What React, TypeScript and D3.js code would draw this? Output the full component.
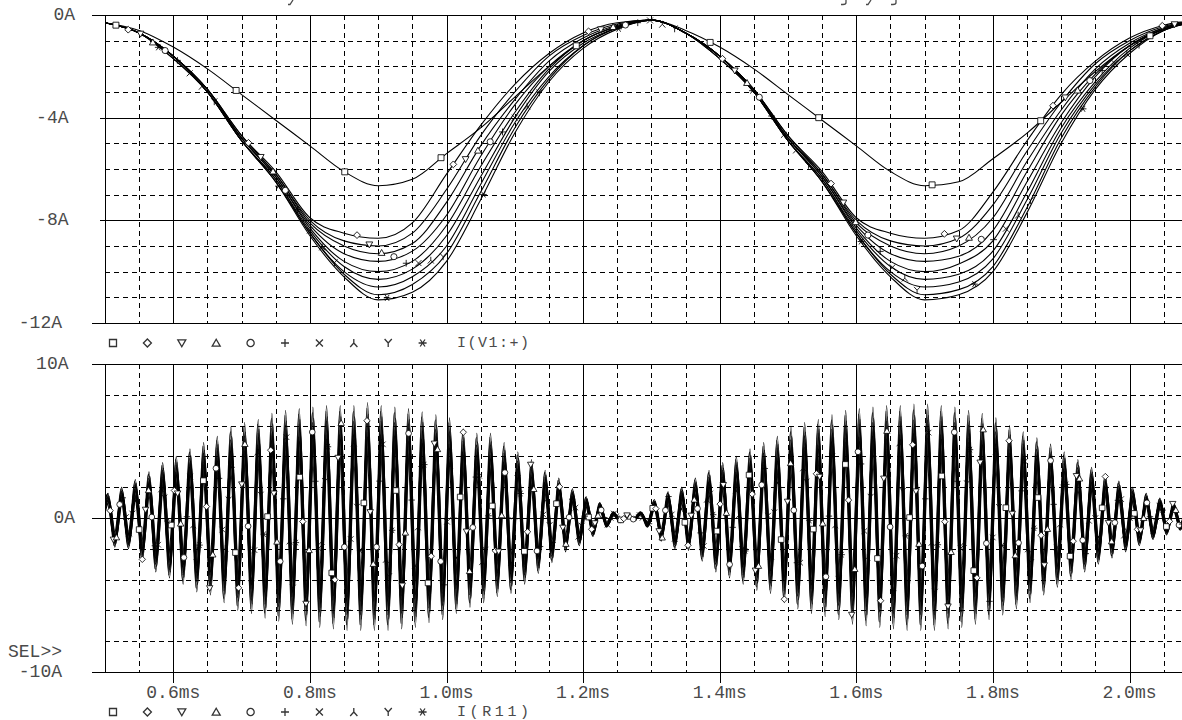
import React from 'react';
import * as d3 from 'd3';

const W = 1182;
const H = 720;

// ---------- top panel: I(V1:+) (10 swept traces) ----------
const TOP_TIMES = [0.50,0.55,0.60,0.65,0.70,0.75,0.80,0.85,0.90,0.95,1.00,1.05,1.10,1.15,1.20,1.25,1.30,1.35,1.40,1.45,1.50,1.55,1.60,1.65,1.70,1.75,1.80,1.85,1.90,1.95,2.00,2.05,2.10];

const TOP_T0 = [-0.3,-0.6,-1.25,-2.1,-3.1,-4.1,-5.1,-6.1,-6.65,-6.4,-5.4,-4.4,-3.2,-2.0,-1.0,-0.45,-0.2,-0.6,-1.25,-2.1,-3.1,-4.1,-5.1,-6.1,-6.65,-6.5,-5.6,-4.6,-3.4,-2.2,-1.2,-0.55,-0.25];
const TOP_T1 = [-0.3,-0.7,-1.6,-2.9,-4.7,-6.1,-7.9,-8.5,-8.7,-8.1,-6.2,-4.3,-2.7,-1.5,-0.7,-0.3,-0.2,-0.7,-1.6,-2.9,-4.7,-6.1,-7.9,-8.5,-8.7,-8.4,-6.9,-4.9,-3.1,-1.8,-0.9,-0.4,-0.2];
const TOP_T2 = [-0.3,-0.7,-1.6,-2.9,-4.7,-6.2,-8.0,-8.8,-9.0,-8.5,-6.8,-4.7,-3.0,-1.6,-0.8,-0.35,-0.2,-0.7,-1.6,-2.9,-4.7,-6.2,-8.0,-8.8,-9.0,-8.7,-7.4,-5.3,-3.4,-1.9,-1.0,-0.45,-0.2];
const TOP_T3 = [-0.3,-0.7,-1.6,-2.9,-4.8,-6.2,-8.1,-9.0,-9.3,-8.9,-7.3,-5.1,-3.3,-1.8,-0.9,-0.4,-0.2,-0.7,-1.6,-2.9,-4.8,-6.2,-8.1,-9.0,-9.3,-9.0,-7.9,-5.7,-3.7,-2.1,-1.1,-0.5,-0.2];
const TOP_T4 = [-0.3,-0.7,-1.6,-2.9,-4.8,-6.3,-8.2,-9.3,-9.6,-9.2,-7.8,-5.5,-3.5,-2.0,-1.0,-0.45,-0.2,-0.7,-1.6,-2.9,-4.8,-6.3,-8.2,-9.3,-9.6,-9.4,-8.4,-6.1,-3.9,-2.3,-1.2,-0.5,-0.2];
const TOP_T5 = [-0.3,-0.7,-1.6,-3.0,-4.8,-6.3,-8.3,-9.6,-10.0,-9.6,-8.2,-5.9,-3.8,-2.1,-1.0,-0.45,-0.2,-0.7,-1.6,-3.0,-4.8,-6.3,-8.3,-9.6,-10.0,-9.7,-8.8,-6.5,-4.2,-2.4,-1.2,-0.55,-0.2];
const TOP_T6 = [-0.3,-0.7,-1.6,-3.0,-4.9,-6.4,-8.4,-9.8,-10.3,-9.9,-8.6,-6.3,-4.0,-2.2,-1.1,-0.5,-0.2,-0.7,-1.6,-3.0,-4.9,-6.4,-8.4,-9.8,-10.3,-10.1,-9.2,-6.9,-4.4,-2.6,-1.3,-0.55,-0.25];
const TOP_T7 = [-0.3,-0.7,-1.6,-3.0,-4.9,-6.4,-8.5,-10.0,-10.6,-10.2,-9.0,-6.6,-4.2,-2.4,-1.2,-0.5,-0.2,-0.7,-1.6,-3.0,-4.9,-6.4,-8.5,-10.0,-10.6,-10.4,-9.5,-7.2,-4.6,-2.7,-1.4,-0.6,-0.25];
const TOP_T8 = [-0.3,-0.7,-1.7,-3.0,-4.9,-6.5,-8.5,-10.1,-10.9,-10.5,-9.3,-6.9,-4.4,-2.5,-1.2,-0.5,-0.2,-0.7,-1.7,-3.0,-4.9,-6.5,-8.5,-10.1,-10.9,-10.7,-9.8,-7.5,-4.8,-2.8,-1.4,-0.6,-0.25];
const TOP_T9 = [-0.3,-0.7,-1.7,-3.0,-4.9,-6.5,-8.6,-10.2,-11.1,-10.8,-9.6,-7.2,-4.6,-2.6,-1.3,-0.55,-0.2,-0.7,-1.7,-3.0,-4.9,-6.5,-8.6,-10.2,-11.1,-10.9,-10.0,-7.7,-5.0,-2.9,-1.5,-0.6,-0.25];
const TOP_TRACES = [TOP_T0, TOP_T1, TOP_T2, TOP_T3, TOP_T4, TOP_T5, TOP_T6, TOP_T7, TOP_T8, TOP_T9];

// marker times read for the square trace; other traces lag behind
const TOP_MARKER_TIMES = [0.516, 0.692, 0.851, 0.992, 1.19, 1.386, 1.545, 1.711, 1.87, 2.03];
const TOP_MARKER_LAG = [0, 0.018, 0.036, 0.054, 0.072, 0.09, 0.108, 0.126, 0.144, 0.062];

// ---------- bottom panel: I(R11) ----------
const BOT_PEAK_T0 = 0.503;
const BOT_CYCLE = 0.02;
const BOT_START = -0.8;
const BOT_PEAKS = [
  1.6, 2.0, 2.5, 3.0, 3.6, 4.0, 4.5, 4.9, 5.3, 5.9,
  6.2, 6.4, 6.8, 7.0, 7.1, 7.2, 7.3, 7.3, 7.3, 7.5,
  7.3, 7.2, 7.1, 6.9, 6.7, 6.5, 5.8, 5.5, 5.5, 4.9,
  4.3, 3.8, 3.1, 2.6, 1.9, 1.4, 1.0, 0.4, 0.2, 0.4,
  1.2, 1.7, 2.0, 2.6, 3.1, 3.6, 4.0, 4.5, 4.9, 5.3,
  5.9, 6.2, 6.4, 6.7, 7.0, 7.1, 7.2, 7.3, 7.3, 7.4,
  7.4, 7.3, 7.2, 7.0, 6.8, 6.5, 6.0, 5.6, 5.2, 4.8,
  4.3, 3.8, 3.3, 2.8, 2.4, 2.0, 1.6, 1.3, 1.0, 0.8,
];
const BOT_TROUGHS = [
  -1.9, -2.0, -2.8, -3.5, -3.9, -4.3, -4.8, -5.0, -5.5, -6.0,
  -6.2, -6.5, -6.7, -6.9, -7.0, -7.1, -7.2, -7.3, -7.3, -7.3,
  -7.3, -7.2, -7.1, -6.8, -6.6, -6.2, -5.8, -5.5, -5.1, -4.9,
  -4.3, -3.6, -2.9, -2.2, -1.8, -1.2, -0.6, -0.3, -0.1, -0.6,
  -1.5, -2.0, -2.1, -2.8, -3.5, -3.9, -4.3, -4.7, -4.9, -5.5,
  -5.9, -6.2, -6.4, -6.6, -6.9, -7.0, -7.1, -7.2, -7.3, -7.3,
  -7.3, -7.2, -7.1, -6.9, -6.6, -6.3, -5.9, -5.5, -5.0, -4.5,
  -4.0, -3.5, -3.0, -2.6, -2.2, -1.8, -1.4, -1.1, -0.8, -0.6,
];
const BOT_RATIOS = [0.62, 1.0, 0.95, 0.9, 0.86, 0.82, 0.78, 0.74, 0.7, 0.66];
const BOT_SHIFTS = [0.0, 0.0014, 0.0005, 0.0025, 0.001, 0.002, 0.003, 0.0007, 0.0017, 0.0033];
const BOT_MARKER_STEP = 0.047;
const BOT_MARKER_OFFSETS = [0.0, 0.0046, 0.0093, 0.0138, 0.0185, 0.023, 0.0278, 0.0322, 0.037, 0.0415];

// ---------- axes ----------
const X_TICKS = [0.6, 0.8, 1.0, 1.2, 1.4, 1.6, 1.8, 2.0];
const X_LABELS = ['0.6ms', '0.8ms', '1.0ms', '1.2ms', '1.4ms', '1.6ms', '1.8ms', '2.0ms'];
const TOP_Y_TICKS = [0, -4, -8, -12];
const TOP_Y_LABELS = ['0A', '-4A', '-8A', '-12A'];
const BOT_Y_TICKS = [10, 0, -10];
const BOT_Y_LABELS = ['10A', '0A', '-10A'];
const TOP_LEGEND = 'I(V1:+)';
const BOT_LEGEND = 'I(R11)';
// x positions of the cut-off title's descenders along the top edge
const TITLE_DESCENDERS = [
  { x: 290, kind: 'y' },
  { x: 843, kind: 'g' },
  { x: 868, kind: 'y' },
  { x: 893, kind: 'g' },
];

const FONT = "'Courier New', 'Liberation Mono', monospace";
const TEXT_FILL = '#4a4a4a';

function symbolPath(k: number): string {
  switch (k) {
    case 0: return 'M-3.5,-3.5H3.5V3.5H-3.5Z';
    case 1: return 'M0,-4L4,0L0,4L-4,0Z';
    case 2: return 'M-4,-3.2H4L0,3.8Z';
    case 3: return 'M0,-3.8L4,3.2H-4Z';
    case 4: return 'M3.6,0A3.6,3.6 0 1,1 -3.6,0A3.6,3.6 0 1,1 3.6,0Z';
    case 5: return 'M-4,0H4M0,-4V4';
    case 6: return 'M-3.5,-3.5L3.5,3.5M3.5,-3.5L-3.5,3.5';
    case 7: return 'M0,-4V0L-3.6,4M0,0L3.6,4';
    case 8: return 'M-3.6,-4L0,0L3.6,-4M0,0V4';
    default: return 'M-4,0H4M-2.4,-3.5L2.4,3.5M2.4,-3.5L-2.4,3.5';
  }
}

function interp(ts: number[], vs: number[], t: number): number {
  const i = d3.bisectRight(ts, t);
  if (i <= 0) return vs[0];
  if (i >= ts.length) return vs[vs.length - 1];
  const t0 = ts[i - 1];
  const t1 = ts[i];
  return vs[i - 1] + ((vs[i] - vs[i - 1]) * (t - t0)) / (t1 - t0);
}

export default function App() {
  const x = d3.scaleLinear().domain([0.5, 2.1]).range([105, 105 + 1.6 * 683]);
  const yTop = d3.scaleLinear().domain([-12, 0]).range([323, 15]);
  const yBot = d3.scaleLinear().domain([-10, 10]).range([672, 364]);
  const left = 105;
  const right = x(2.1);

  const px = (v: number) => Math.round(v) + 0.5;

  const minorX = d3.range(11, 42).map((i) => i * 0.05).filter((t) => Math.abs(t / 0.2 - Math.round(t / 0.2)) > 1e-6);
  const topMinorY = d3.range(-11, 0).filter((v) => v % 4 !== 0);
  const botMinorY = d3.range(-8, 10, 2).filter((v) => v !== 0);

  const topLine = d3
    .line<number>()
    .x((_, i) => x(TOP_TIMES[i]))
    .y((d) => yTop(d))
    .curve(d3.curveMonotoneX);

  // bottom traces
  const botTraces = BOT_RATIOS.map((r, k) => {
    const ts: number[] = [BOT_PEAK_T0 - BOT_CYCLE / 2 + BOT_SHIFTS[k]];
    const vs: number[] = [BOT_START * r];
    BOT_PEAKS.forEach((p, i) => {
      ts.push(BOT_PEAK_T0 + i * BOT_CYCLE + BOT_SHIFTS[k]);
      vs.push(p * r);
      ts.push(BOT_PEAK_T0 + (i + 0.5) * BOT_CYCLE + BOT_SHIFTS[k]);
      vs.push(BOT_TROUGHS[i] * r);
    });
    return { ts, vs };
  });
  const botLine = d3
    .line<[number, number]>()
    .x((d) => x(d[0]))
    .y((d) => yBot(d[1]))
    .curve(d3.curveMonotoneX);

  const topMarkers: { k: number; t: number; v: number }[] = [];
  TOP_TRACES.forEach((tr, k) => {
    TOP_MARKER_TIMES.forEach((t0) => {
      const t = t0 + TOP_MARKER_LAG[k];
      if (t > 0.505 && t < 2.09) topMarkers.push({ k, t, v: interp(TOP_TIMES, tr, t) });
    });
  });

  const botMarkers: { k: number; t: number; v: number }[] = [];
  botTraces.forEach((tr, k) => {
    for (let n = 0; n < 40; n++) {
      const t = 0.503 + BOT_MARKER_OFFSETS[k] + n * BOT_MARKER_STEP;
      if (t > 0.505 && t < 2.09) botMarkers.push({ k, t, v: interp(tr.ts, tr.vs, t) });
    }
  });

  const labelEnd = (s: string) => 88 - s.length * 6.5;

  const legendRow = (y: number, label: string) => (
    <g>
      {d3.range(10).map((k) => (
        <path key={k} d={symbolPath(k)} transform={`translate(${113 + k * 34.4},${y})`} fill="none" stroke="#333" strokeWidth={1.3} />
      ))}
      <text x={457} y={y + 4} fontSize={15} fill={TEXT_FILL} textLength={72} fontFamily={FONT}>
        {label}
      </text>
    </g>
  );

  return (
    <div style={{ position: 'absolute', left: 0, top: 0 }}>
      <svg width={W} height={H} style={{ display: 'block', background: '#fff' }} fontFamily={FONT}>
        <defs>
          <clipPath id="clipTop">
            <rect x={left} y={15} width={right - left} height={308} />
          </clipPath>
          <clipPath id="clipBot">
            <rect x={left} y={364} width={right - left} height={308} />
          </clipPath>
        </defs>
        <rect x={0} y={0} width={W} height={H} fill="#fff" />

        {/* descenders of the cut-off title along the top edge */}
        <g stroke={TEXT_FILL} strokeWidth={1.3} fill="none">
          {TITLE_DESCENDERS.map((d, i) => (
            <path
              key={i}
              transform={`translate(${d.x},0)`}
              d={d.kind === 'y' ? 'M3,0L0,4.5H-2' : 'M3,0V2.5Q3,4.5 0,4.5H-2'}
            />
          ))}
        </g>

        {/* ---------- grids ---------- */}
        <g stroke="#000" strokeWidth={1} shapeRendering="crispEdges" fill="none">
          {minorX.map((t) => (
            <g key={'mx' + t}>
              <line x1={px(x(t))} x2={px(x(t))} y1={15} y2={323} strokeDasharray="5,4" />
              <line x1={px(x(t))} x2={px(x(t))} y1={364} y2={672} strokeDasharray="5,4" />
            </g>
          ))}
          {topMinorY.map((v) => (
            <line key={'ty' + v} x1={left} x2={right} y1={px(yTop(v))} y2={px(yTop(v))} strokeDasharray="5,4" />
          ))}
          {botMinorY.map((v) => (
            <line key={'by' + v} x1={left} x2={right} y1={px(yBot(v))} y2={px(yBot(v))} strokeDasharray="5,4" />
          ))}
          {X_TICKS.map((t) => (
            <g key={'MX' + t}>
              <line x1={px(x(t))} x2={px(x(t))} y1={15} y2={323} />
              <line x1={px(x(t))} x2={px(x(t))} y1={364} y2={683} />
            </g>
          ))}
          <line x1={px(left)} x2={px(left)} y1={15} y2={323} />
          <line x1={px(left)} x2={px(left)} y1={364} y2={672} />
          {TOP_Y_TICKS.map((v) => (
            <line key={'TY' + v} x1={v === 0 || v === -12 ? 92 : 100} x2={right} y1={px(yTop(v))} y2={px(yTop(v))} />
          ))}
          {BOT_Y_TICKS.map((v) => (
            <line key={'BY' + v} x1={92} x2={right} y1={px(yBot(v))} y2={px(yBot(v))} />
          ))}
        </g>

        {/* ---------- top traces ---------- */}
        <g clipPath="url(#clipTop)" fill="none" stroke="#000" strokeWidth={1.1}>
          {TOP_TRACES.map((tr, k) => (
            <path key={k} d={topLine(tr) || ''} />
          ))}
        </g>
        <g stroke="#000" strokeWidth={1}>
          {topMarkers.map((m, i) => (
            <path key={i} d={symbolPath(m.k)} transform={`translate(${x(m.t)},${yTop(m.v)}) scale(0.85)`} fill={m.k <= 4 ? '#fff' : 'none'} />
          ))}
        </g>

        {/* ---------- bottom traces ---------- */}
        <g clipPath="url(#clipBot)" fill="none" stroke="#000" strokeWidth={1.1}>
          {botTraces.map((tr, k) => (
            <path key={k} d={botLine(tr.ts.map((t, i) => [t, tr.vs[i]] as [number, number])) || ''} />
          ))}
        </g>
        <g stroke="#000" strokeWidth={1}>
          {botMarkers.map((m, i) => (
            <path key={i} d={symbolPath(m.k)} transform={`translate(${x(m.t)},${yBot(m.v)}) scale(0.8)`} fill={m.k <= 4 ? '#fff' : 'none'} />
          ))}
        </g>

        {/* ---------- labels ---------- */}
        <g fontSize={18} fill={TEXT_FILL}>
          {TOP_Y_TICKS.map((v, i) => (
            <text key={'tl' + v} x={labelEnd(TOP_Y_LABELS[i])} y={yTop(v) + 5} textAnchor="end">
              {TOP_Y_LABELS[i]}
            </text>
          ))}
          {BOT_Y_TICKS.map((v, i) => (
            <text key={'bl' + v} x={labelEnd(BOT_Y_LABELS[i])} y={yBot(v) + 5} textAnchor="end">
              {BOT_Y_LABELS[i]}
            </text>
          ))}
          <text x={8} y={657}>SEL&gt;&gt;</text>
          {X_TICKS.map((t, i) => (
            <text key={'xl' + t} x={x(t)} y={698} textAnchor="middle">
              {X_LABELS[i]}
            </text>
          ))}
        </g>

        {legendRow(343, TOP_LEGEND)}
        {legendRow(712, BOT_LEGEND)}
      </svg>
    </div>
  );
}
